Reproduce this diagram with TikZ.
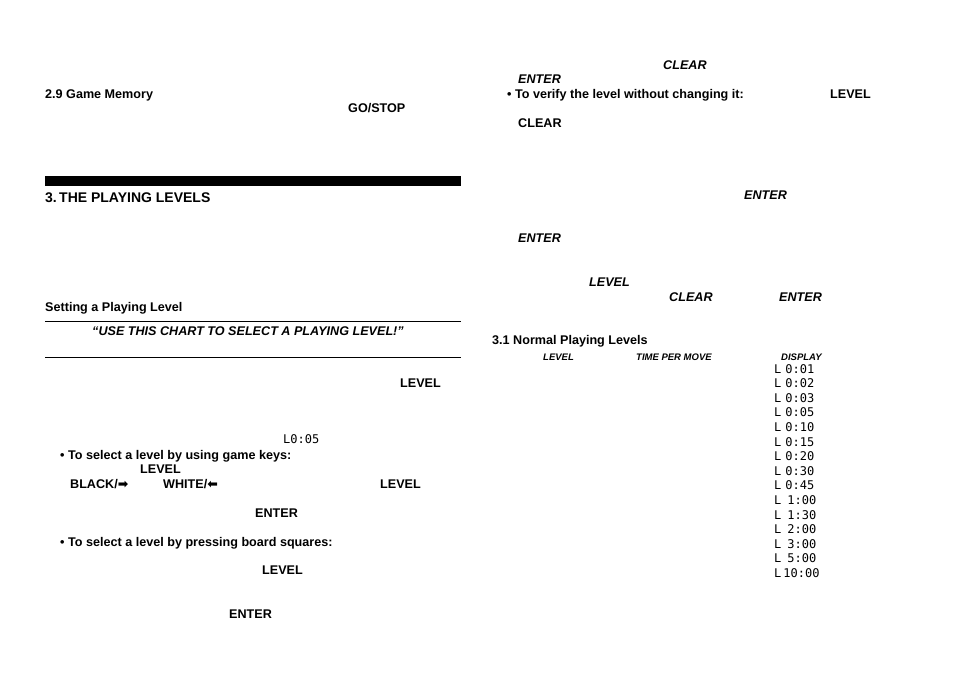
\documentclass[tikz,border=0pt]{standalone}
\usepackage{fontspec}
\setmainfont{Liberation Sans}
\newfontfamily\symf{DejaVu Sans}
\newfontfamily\lcd{DejaVu Sans Mono}
\begin{document}
\begin{tikzpicture}[x=1pt,y=-1pt,
  t/.style={anchor=base west,inner sep=0pt,font=\fontsize{12.6}{13}\selectfont\bfseries},
  ti/.style={t,font=\fontsize{12.6}{13}\selectfont\bfseries\itshape},
  sm/.style={anchor=base west,inner sep=0pt,font=\fontsize{9.5}{10}\selectfont\bfseries\itshape},
  dsp/.style={anchor=base west,inner sep=0pt,font=\fontsize{12}{12}\lcd\selectfont}]
\useasboundingbox (0,0) rectangle (954,674);
\fill (45,176) rectangle (461,186);
\draw[line width=0.7pt] (45,321) -- (461,321) (45,357) -- (461,357);
\node[t] (a1) at (45,99) {2.9 Game Memory};
\node[t] (a2) at (348,113) {GO/STOP};
\node[t,font=\fontsize{14}{15}\selectfont\bfseries] (a3) at (45,203) {3.\,THE PLAYING LEVELS};
\node[t] (a4) at (45,311) {Setting a Playing Level};
\node[ti] (a5) at (92,335) {“USE THIS CHART TO SELECT A PLAYING LEVEL!”};
\node[t] (a6) at (400,387) {LEVEL};
\node[dsp] (a7) at (283,443) {L0:05};
\node[t] (a8) at (60,459) {• To select a level by using game keys:};
\node[t] (a9) at (140,473) {LEVEL};
\node[t] (a10) at (70,488) {BLACK/{\symf ➡}};
\node[t] (a11) at (163,488) {WHITE/{\symf ⬅}};
\node[t] (a12) at (380,488) {LEVEL};
\node[t] (a13) at (255,517) {ENTER};
\node[t] (a14) at (60,546) {• To select a level by pressing board squares:};
\node[t] (a15) at (262,574) {LEVEL};
\node[t] (a16) at (229,618) {ENTER};
\node[ti] (b1) at (663,70) {CLEAR};
\node[ti] (b2) at (518,84) {ENTER};
\node[t] (b3) at (507,99) {• To verify the level without changing it:};
\node[t] (b4) at (830,99) {LEVEL};
\node[t] (b5) at (518,128) {CLEAR};
\node[ti] (b6) at (744,200) {ENTER};
\node[ti] (b7) at (518,243) {ENTER};
\node[ti] (b8) at (589,286) {LEVEL};
\node[ti] (b9) at (669,301) {CLEAR};
\node[ti] (b10) at (779,301) {ENTER};
\node[t] (b11) at (492,344) {3.1 Normal Playing Levels};
\node[sm] (h1) at (543,360) {LEVEL};
\node[sm] (h2) at (636,360) {TIME PER MOVE};
\node[sm] (h3) at (781,360) {DISPLAY};
\foreach \s [count=\i from 0] in {{L\,\,0:01},{L\,\,0:02},{L\,\,0:03},{L\,\,0:05},{L\,\,0:10},{L\,\,0:15},{L\,\,0:20},{L\,\,0:30},{L\,\,0:45},{L\,\,\,1:00},{L\,\,\,1:30},{L\,\,\,2:00},{L\,\,\,3:00},{L\,\,\,5:00},{L\,10:00}}
  \node[dsp] (d\i) at (774,373+14.6*\i) {\s};
\end{tikzpicture}
\end{document}
